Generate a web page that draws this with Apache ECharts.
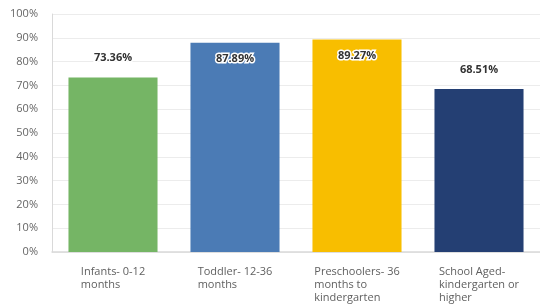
<!DOCTYPE html>
<html>
<head>
<meta charset="utf-8">
<script src="https://cdn.jsdelivr.net/npm/echarts@6/dist/echarts.min.js"></script>
<style>
  html, body { margin: 0; padding: 0; background: #fff; }
  #chart { width: 540px; height: 305px; }
</style>
</head>
<body>
<div id="chart"></div>
<script>
var categories = ['Infants- 0-12\nmonths', 'Toddler- 12-36\nmonths', 'Preschoolers- 36\nmonths to\nkindergarten', 'School Aged-\nkindergarten or\nhigher'];
var values = [73.36, 87.89, 89.27, 68.51];
var colors = ['#75b565', '#4b7bb5', '#f8be00', '#243f73'];
var labelInside = [false, true, true, false];

var chart = echarts.init(document.getElementById('chart'));

var data = [];
for (var i = 0; i < values.length; i++) {
    data.push({
        value: values[i],
        itemStyle: { color: colors[i] },
        label: labelInside[i] ? { position: 'insideTop', distance: 11 } : { position: 'top', distance: 14 }
    });
}

var option = {
    animation: false,
    grid: { left: 52, width: 492, top: 14, bottom: 53 },
    xAxis: {
        type: 'category',
        data: categories,
        axisLine: { show: true, lineStyle: { color: '#d9d9d9', width: 1.5 } },
        axisTick: { show: false },
        axisLabel: {
            interval: 0,
            margin: 13,
            formatter: function (v) { return '{a|' + v.split('\n').join('}\n{a|') + '}'; },
            rich: {
                a: { align: 'left', fontSize: 11, lineHeight: 13, color: '#5f5f5f', fontFamily: 'Open Sans' }
            }
        }
    },
    yAxis: {
        type: 'value',
        min: 0,
        max: 100,
        interval: 10,
        axisLine: { show: true, lineStyle: { color: '#d9d9d9' } },
        axisTick: { show: false },
        axisLabel: { formatter: '{value}%', color: '#666', fontSize: 11, margin: 14, fontFamily: 'Open Sans' },
        splitLine: { show: true, lineStyle: { color: '#ececec' } }
    },
    series: [{
        type: 'bar',
        barWidth: '73%',
        data: data,
        label: {
            show: true,
            formatter: function (p) { return p.value.toFixed(2) + '%'; },
            color: '#333',
            fontWeight: 'bold',
            fontSize: 11,
            fontFamily: 'Open Sans',
            textBorderColor: '#fff',
            textBorderWidth: 3
        }
    }]
};

chart.setOption(option);
</script>
</body>
</html>
